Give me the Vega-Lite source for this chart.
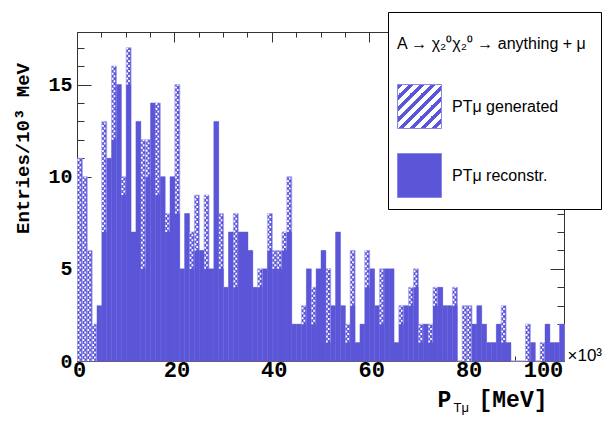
{
  "$schema": "https://vega.github.io/schema/vega-lite/v6.json",
  "width": 487,
  "height": 329,
  "autosize": {"type": "none"},
  "padding": {"left": 77, "top": 32, "right": 52, "bottom": 62},
  "background": "white",
  "config": {
    "view": {"stroke": "#333333", "strokeWidth": 1},
    "axis": {
      "grid": false,
      "domain": false,
      "tickColor": "#333333",
      "tickWidth": 1,
      "labelColor": "black",
      "labelFont": "Liberation Mono",
      "labelFontWeight": "bold",
      "labelFontSize": 20,
      "titleColor": "black",
      "titleFont": "Liberation Mono",
      "titleFontWeight": "bold",
      "titleFontSize": 23
    }
  },
  "data": {
    "values": [
      {"lo": 0, "hi": 1, "gen": 11, "reco": 0},
      {"lo": 1, "hi": 2, "gen": 10, "reco": 0},
      {"lo": 2, "hi": 3, "gen": 6, "reco": 0},
      {"lo": 3, "hi": 4, "gen": 2, "reco": 0},
      {"lo": 4, "hi": 5, "gen": 3, "reco": 3},
      {"lo": 5, "hi": 6, "gen": 13, "reco": 7},
      {"lo": 6, "hi": 7, "gen": 11, "reco": 11},
      {"lo": 7, "hi": 8, "gen": 16, "reco": 12},
      {"lo": 8, "hi": 9, "gen": 15, "reco": 15},
      {"lo": 9, "hi": 10, "gen": 10, "reco": 9},
      {"lo": 10, "hi": 11, "gen": 17, "reco": 15},
      {"lo": 11, "hi": 12, "gen": 7, "reco": 7},
      {"lo": 12, "hi": 13, "gen": 13, "reco": 13},
      {"lo": 13, "hi": 14, "gen": 12, "reco": 5},
      {"lo": 14, "hi": 15, "gen": 12, "reco": 10},
      {"lo": 15, "hi": 16, "gen": 14, "reco": 14},
      {"lo": 16, "hi": 17, "gen": 14, "reco": 9},
      {"lo": 17, "hi": 18, "gen": 10, "reco": 10},
      {"lo": 18, "hi": 19, "gen": 8, "reco": 7},
      {"lo": 19, "hi": 20, "gen": 10, "reco": 10},
      {"lo": 20, "hi": 21, "gen": 15, "reco": 8},
      {"lo": 21, "hi": 22, "gen": 5, "reco": 5},
      {"lo": 22, "hi": 23, "gen": 8, "reco": 8},
      {"lo": 23, "hi": 24, "gen": 7, "reco": 5},
      {"lo": 24, "hi": 25, "gen": 9, "reco": 6},
      {"lo": 25, "hi": 26, "gen": 6, "reco": 6},
      {"lo": 26, "hi": 27, "gen": 9, "reco": 5},
      {"lo": 27, "hi": 28, "gen": 5, "reco": 5},
      {"lo": 28, "hi": 29, "gen": 13, "reco": 13},
      {"lo": 29, "hi": 30, "gen": 8, "reco": 5},
      {"lo": 30, "hi": 31, "gen": 4, "reco": 4},
      {"lo": 31, "hi": 32, "gen": 7, "reco": 7},
      {"lo": 32, "hi": 33, "gen": 8, "reco": 4},
      {"lo": 33, "hi": 34, "gen": 7, "reco": 7},
      {"lo": 34, "hi": 35, "gen": 7, "reco": 7},
      {"lo": 35, "hi": 36, "gen": 6, "reco": 6},
      {"lo": 36, "hi": 37, "gen": 4, "reco": 4},
      {"lo": 37, "hi": 38, "gen": 5, "reco": 4},
      {"lo": 38, "hi": 39, "gen": 5, "reco": 5},
      {"lo": 39, "hi": 40, "gen": 8, "reco": 6},
      {"lo": 40, "hi": 41, "gen": 6, "reco": 5},
      {"lo": 41, "hi": 42, "gen": 6, "reco": 5},
      {"lo": 42, "hi": 43, "gen": 7, "reco": 6},
      {"lo": 43, "hi": 44, "gen": 10, "reco": 7},
      {"lo": 44, "hi": 45, "gen": 2, "reco": 2},
      {"lo": 45, "hi": 46, "gen": 2, "reco": 2},
      {"lo": 46, "hi": 47, "gen": 3, "reco": 2},
      {"lo": 47, "hi": 48, "gen": 5, "reco": 5},
      {"lo": 48, "hi": 49, "gen": 4, "reco": 2},
      {"lo": 49, "hi": 50, "gen": 5, "reco": 5},
      {"lo": 50, "hi": 51, "gen": 6, "reco": 6},
      {"lo": 51, "hi": 52, "gen": 5, "reco": 1},
      {"lo": 52, "hi": 53, "gen": 3, "reco": 3},
      {"lo": 53, "hi": 54, "gen": 7, "reco": 7},
      {"lo": 54, "hi": 55, "gen": 3, "reco": 3},
      {"lo": 55, "hi": 56, "gen": 2, "reco": 1},
      {"lo": 56, "hi": 57, "gen": 6, "reco": 3},
      {"lo": 57, "hi": 58, "gen": 1, "reco": 1},
      {"lo": 58, "hi": 59, "gen": 2, "reco": 2},
      {"lo": 59, "hi": 60, "gen": 6, "reco": 4},
      {"lo": 60, "hi": 61, "gen": 5, "reco": 5},
      {"lo": 61, "hi": 62, "gen": 3, "reco": 3},
      {"lo": 62, "hi": 63, "gen": 5, "reco": 2},
      {"lo": 63, "hi": 64, "gen": 5, "reco": 5},
      {"lo": 64, "hi": 65, "gen": 5, "reco": 5},
      {"lo": 65, "hi": 66, "gen": 1, "reco": 1},
      {"lo": 66, "hi": 67, "gen": 3, "reco": 2},
      {"lo": 67, "hi": 68, "gen": 3, "reco": 3},
      {"lo": 68, "hi": 69, "gen": 4, "reco": 3},
      {"lo": 69, "hi": 70, "gen": 5, "reco": 4},
      {"lo": 70, "hi": 71, "gen": 2, "reco": 1},
      {"lo": 71, "hi": 72, "gen": 2, "reco": 2},
      {"lo": 72, "hi": 73, "gen": 2, "reco": 1},
      {"lo": 73, "hi": 74, "gen": 4, "reco": 3},
      {"lo": 74, "hi": 75, "gen": 4, "reco": 4},
      {"lo": 75, "hi": 76, "gen": 3, "reco": 3},
      {"lo": 76, "hi": 77, "gen": 3, "reco": 3},
      {"lo": 77, "hi": 78, "gen": 4, "reco": 3},
      {"lo": 78, "hi": 79, "gen": 0, "reco": 0},
      {"lo": 79, "hi": 80, "gen": 3, "reco": 0},
      {"lo": 80, "hi": 81, "gen": 3, "reco": 0},
      {"lo": 81, "hi": 82, "gen": 2, "reco": 2},
      {"lo": 82, "hi": 83, "gen": 3, "reco": 3},
      {"lo": 83, "hi": 84, "gen": 2, "reco": 2},
      {"lo": 84, "hi": 85, "gen": 1, "reco": 1},
      {"lo": 85, "hi": 86, "gen": 1, "reco": 1},
      {"lo": 86, "hi": 87, "gen": 2, "reco": 2},
      {"lo": 87, "hi": 88, "gen": 3, "reco": 1},
      {"lo": 88, "hi": 89, "gen": 1, "reco": 1},
      {"lo": 89, "hi": 90, "gen": 0, "reco": 0},
      {"lo": 90, "hi": 91, "gen": 0, "reco": 0},
      {"lo": 91, "hi": 92, "gen": 0, "reco": 0},
      {"lo": 92, "hi": 93, "gen": 2, "reco": 0},
      {"lo": 93, "hi": 94, "gen": 1, "reco": 1},
      {"lo": 94, "hi": 95, "gen": 0, "reco": 0},
      {"lo": 95, "hi": 96, "gen": 1, "reco": 0},
      {"lo": 96, "hi": 97, "gen": 2, "reco": 2},
      {"lo": 97, "hi": 98, "gen": 1, "reco": 1},
      {"lo": 98, "hi": 99, "gen": 1, "reco": 1},
      {"lo": 99, "hi": 100, "gen": 2, "reco": 2}
    ]
  },
  "layer": [
    {
      "mark": {"type": "bar", "binSpacing": 0, "fill": "#5b55d7", "stroke": "#a9a5ee", "strokeWidth": 0.8},
      "encoding": {
        "x": {
          "field": "lo", "type": "quantitative", "bin": "binned",
          "scale": {"domain": [0, 100], "nice": false, "zero": false},
          "axis": {
            "orient": "bottom", "values": [0, 20, 40, 60, 80, 100],
            "tickSize": -10, "labelPadding": 8, "labelFlush": false, "labelFontSize": 22,
            "labelOffset": {"condition": {"test": "datum.value === 100", "value": -21}, "value": 2},
            "title": "P", "titleX": 360, "titleY": 45,
            "titleAlign": "left", "titleBaseline": "alphabetic"
          }
        },
        "x2": {"field": "hi"},
        "y": {
          "field": "gen", "type": "quantitative",
          "scale": {"domain": [0, 17.85], "nice": false},
          "axis": {
            "orient": "left", "values": [0, 5, 10, 15],
            "tickSize": -14, "labelPadding": 19, "labelFlush": false,
            "title": "Entries/10³ MeV", "titleFontSize": 19,
            "titleX": -55, "titleY": 116, "titleAngle": -90,
            "titleAlign": "center", "titleBaseline": "middle"
          }
        }
      }
    },
    {
      "mark": {"type": "bar", "binSpacing": 0},
      "encoding": {
        "x": {
          "field": "lo", "type": "quantitative", "bin": "binned",
          "axis": {
            "orient": "top", "values": [0, 20, 40, 60, 80, 100],
            "tickSize": -10, "labels": false,
            "title": "[MeV]", "titleX": 401, "titleY": 374,
            "titleAlign": "left", "titleBaseline": "alphabetic"
          }
        },
        "x2": {"field": "hi"},
        "y": {
          "field": "reco", "type": "quantitative",
          "axis": {
            "orient": "right", "values": [0, 5, 10, 15],
            "tickSize": -14, "labels": false,
            "title": "×10³", "titleFont": "Liberation Sans", "titleFontWeight": "normal",
            "titleFontSize": 17, "titleAngle": 0, "titleX": 3, "titleY": 323,
            "titleAlign": "left", "titleBaseline": "middle"
          }
        },
        "fill": {
          "datum": "PTμ reconstr.", "type": "nominal",
          "scale": {
            "domain": ["PTμ generated", "PTμ reconstr."],
            "range": [
              {"expr": "{gradient: 'linear', x1: 0, y1: 0, x2: 1, y2: 1, stops: [{offset: 0, color: '#5b55d7'}, {offset: 0.06, color: '#5b55d7'}, {offset: 0.06, color: 'white'}, {offset: 0.125, color: 'white'}, {offset: 0.125, color: '#5b55d7'}, {offset: 0.185, color: '#5b55d7'}, {offset: 0.185, color: 'white'}, {offset: 0.25, color: 'white'}, {offset: 0.25, color: '#5b55d7'}, {offset: 0.31, color: '#5b55d7'}, {offset: 0.31, color: 'white'}, {offset: 0.375, color: 'white'}, {offset: 0.375, color: '#5b55d7'}, {offset: 0.435, color: '#5b55d7'}, {offset: 0.435, color: 'white'}, {offset: 0.5, color: 'white'}, {offset: 0.5, color: '#5b55d7'}, {offset: 0.56, color: '#5b55d7'}, {offset: 0.56, color: 'white'}, {offset: 0.625, color: 'white'}, {offset: 0.625, color: '#5b55d7'}, {offset: 0.685, color: '#5b55d7'}, {offset: 0.685, color: 'white'}, {offset: 0.75, color: 'white'}, {offset: 0.75, color: '#5b55d7'}, {offset: 0.81, color: '#5b55d7'}, {offset: 0.81, color: 'white'}, {offset: 0.875, color: 'white'}, {offset: 0.875, color: '#5b55d7'}, {offset: 0.935, color: '#5b55d7'}, {offset: 0.935, color: 'white'}, {offset: 1, color: 'white'}]}"},
              "#5b55d7"
            ]
          },
          "legend": {
            "orient": "none", "legendX": 311, "legendY": -20,
            "title": "A → χ₂⁰χ₂⁰ →  anything + μ",
            "titleFont": "Liberation Sans", "titleFontSize": 16,
            "titleFontWeight": "normal", "titleColor": "black",
            "titlePadding": 47, "titleLimit": 600,
            "labelFont": "Liberation Sans", "labelFontSize": 16, "labelColor": "black",
            "labelOffset": 10, "labelLimit": 400,
            "labelExpr": "datum.label + '\u00a0\u00a0\u00a0\u00a0\u00a0\u00a0\u00a0\u00a0\u00a0\u00a0\u00a0\u00a0\u00a0\u00a0\u00a0\u00a0\u00a0\u00a0\u00a0\u00a0'",
            "symbolType": "square", "symbolSize": 1936,
            "symbolStrokeColor": "#8a86e6", "symbolStrokeWidth": 1,
            "rowPadding": 20, "padding": 9,
            "fillColor": "white", "strokeColor": "black",
            "encode": {"title": {"update": {"dy": {"value": 15}}}}
          }
        }
      }
    },
    {
      "transform": [{"filter": "datum.gen > datum.reco"}],
      "mark": {"type": "rule", "xOffset": 1.6, "color": "white", "strokeWidth": 1.7, "strokeDash": [2, 3]},
      "encoding": {
        "x": {
          "field": "lo", "type": "quantitative",
          "axis": {
            "orient": "bottom",
            "values": [0, 5, 10, 15, 20, 25, 30, 35, 40, 45, 50, 55, 60, 65, 70, 75, 80, 85, 90, 95, 100],
            "tickSize": -5, "labels": false,
            "title": "Tμ", "titleFontSize": 13, "titleFont": "Liberation Sans", "titleFontWeight": "normal",
            "titleX": 376, "titleY": 50, "titleAlign": "left", "titleBaseline": "alphabetic"
          }
        },
        "y": {
          "field": "reco", "type": "quantitative",
          "axis": {
            "orient": "left",
            "values": [0, 1, 2, 3, 4, 5, 6, 7, 8, 9, 10, 11, 12, 13, 14, 15, 16, 17],
            "tickSize": -7, "labels": false, "title": null
          }
        },
        "y2": {"field": "gen"},
        "fill": {"datum": "PTμ generated", "type": "nominal"}
      }
    },
    {
      "transform": [{"filter": "datum.gen > datum.reco"}],
      "mark": {"type": "rule", "xOffset": 3.3, "color": "white", "strokeWidth": 1.7, "strokeDash": [2, 3], "strokeDashOffset": 2.5},
      "encoding": {
        "x": {
          "field": "lo", "type": "quantitative",
          "axis": {
            "orient": "top",
            "values": [0, 5, 10, 15, 20, 25, 30, 35, 40, 45, 50, 55, 60, 65, 70, 75, 80, 85, 90, 95, 100],
            "tickSize": -5, "labels": false, "title": null
          }
        },
        "y": {
          "field": "reco", "type": "quantitative",
          "axis": {
            "orient": "right",
            "values": [0, 1, 2, 3, 4, 5, 6, 7, 8, 9, 10, 11, 12, 13, 14, 15, 16, 17],
            "tickSize": -7, "labels": false, "title": null
          }
        },
        "y2": {"field": "gen"},
        "fill": {"datum": "PTμ generated", "type": "nominal"}
      }
    }
  ],
  "resolve": {"axis": {"x": "independent", "y": "independent"}}
}
